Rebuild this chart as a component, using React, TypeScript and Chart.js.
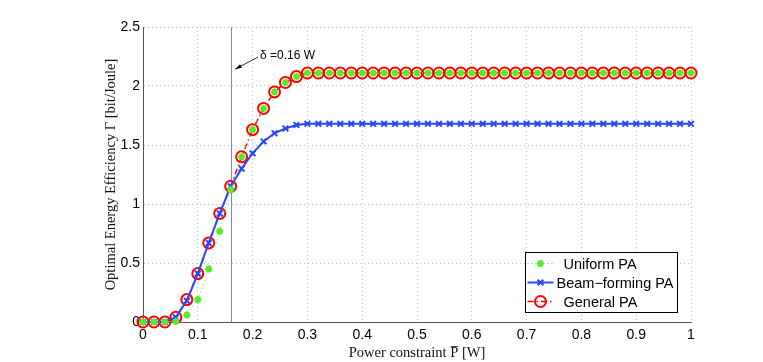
import React, { useEffect, useRef } from "react";
import { Chart, registerables } from "chart.js";

Chart.register(...registerables);

const power = [
  0, 0.02, 0.04, 0.06, 0.08, 0.1, 0.12, 0.14, 0.16, 0.18, 0.2, 0.22, 0.24, 0.26, 0.28, 0.3,
  0.32, 0.34, 0.36, 0.38, 0.4, 0.42, 0.44, 0.46, 0.48, 0.5, 0.52, 0.54, 0.56, 0.58, 0.6,
  0.62, 0.64, 0.66, 0.68, 0.7, 0.72, 0.74, 0.76, 0.78, 0.8, 0.82, 0.84, 0.86, 0.88, 0.9,
  0.92, 0.94, 0.96, 0.98, 1.0,
];

const uniformPA = [
  0, 0, 0, 0.005, 0.06, 0.19, 0.45, 0.77, 1.12, 1.4, 1.63, 1.81, 1.95, 2.03, 2.08, 2.11,
  2.11, 2.11, 2.11, 2.11, 2.11, 2.11, 2.11, 2.11, 2.11, 2.11, 2.11, 2.11, 2.11, 2.11, 2.11,
  2.11, 2.11, 2.11, 2.11, 2.11, 2.11, 2.11, 2.11, 2.11, 2.11, 2.11, 2.11, 2.11, 2.11, 2.11,
  2.11, 2.11, 2.11, 2.11, 2.11,
];

const beamformingPA = [
  0, 0, 0, 0.04, 0.18, 0.41, 0.67, 0.92, 1.15, 1.3, 1.43, 1.53, 1.6, 1.64, 1.67, 1.68,
  1.68, 1.68, 1.68, 1.68, 1.68, 1.68, 1.68, 1.68, 1.68, 1.68, 1.68, 1.68, 1.68, 1.68, 1.68,
  1.68, 1.68, 1.68, 1.68, 1.68, 1.68, 1.68, 1.68, 1.68, 1.68, 1.68, 1.68, 1.68, 1.68, 1.68,
  1.68, 1.68, 1.68, 1.68, 1.68,
];

const generalPA = [
  0, 0, 0, 0.04, 0.19, 0.41, 0.67, 0.92, 1.15, 1.4, 1.63, 1.81, 1.95, 2.03, 2.08, 2.11,
  2.11, 2.11, 2.11, 2.11, 2.11, 2.11, 2.11, 2.11, 2.11, 2.11, 2.11, 2.11, 2.11, 2.11, 2.11,
  2.11, 2.11, 2.11, 2.11, 2.11, 2.11, 2.11, 2.11, 2.11, 2.11, 2.11, 2.11, 2.11, 2.11, 2.11,
  2.11, 2.11, 2.11, 2.11, 2.11,
];

const seriesLabels = ["Uniform PA", "Beam\u2212forming PA", "General PA"];
const deltaValue = 0.16;
const annotationText = "\u03b4 =0.16 W";
const xTitle = "Power constraint P\u0305 [W]";
const yTitle = "Optimal Energy Efficiency \u0393 [bit/Joule]";

const GREEN = "rgb(85,235,40)";
const BLUE = "rgb(40,70,255)";
const RED = "rgb(255,0,0)";

const pts = (ys: number[]) => power.map((x, i) => ({ x, y: ys[i] }));

function drawMarker(ctx: CanvasRenderingContext2D, d: any, x: number, y: number) {
  const r = d.pointRadius;
  ctx.save();
  ctx.strokeStyle = d.pointBorderColor;
  ctx.fillStyle = d.pointBackgroundColor;
  ctx.lineWidth = d.pointBorderWidth;
  ctx.beginPath();
  if (d.pointStyle === "circle") {
    ctx.arc(x, y, r, 0, Math.PI * 2);
  } else if (d.pointStyle === "crossRot") {
    const o = r * Math.SQRT1_2;
    ctx.moveTo(x - o, y - o); ctx.lineTo(x + o, y + o);
    ctx.moveTo(x - o, y + o); ctx.lineTo(x + o, y - o);
  } else {
    const o = r * Math.SQRT1_2;
    ctx.moveTo(x - r, y); ctx.lineTo(x + r, y);
    ctx.moveTo(x, y - r); ctx.lineTo(x, y + r);
    ctx.moveTo(x - o, y - o); ctx.lineTo(x + o, y + o);
    ctx.moveTo(x - o, y + o); ctx.lineTo(x + o, y - o);
  }
  ctx.stroke();
  ctx.restore();
}

export default function App() {
  const ref = useRef<HTMLCanvasElement | null>(null);

  useEffect(() => {
    if (!ref.current) return;

    const overlay = {
      id: "overlay",
      beforeDatasetsDraw(chart: any) {
        const { ctx, chartArea, scales } = chart;
        const x = Math.round(scales.x.getPixelForValue(deltaValue)) + 0.5;
        ctx.save();
        ctx.strokeStyle = "#8a8a8a";
        ctx.lineWidth = 1;
        ctx.beginPath();
        ctx.moveTo(x, chartArea.top);
        ctx.lineTo(x, chartArea.bottom);
        ctx.stroke();
        ctx.restore();
      },
      afterDraw(chart: any) {
        const { ctx, chartArea, scales } = chart;
        const sx = scales.x, sy = scales.y;
        ctx.save();
        // annotation
        const tx = sx.getPixelForValue(0.2135);
        const ty = sy.getPixelForValue(2.256);
        const ax0 = sx.getPixelForValue(0.21);
        const ay0 = sy.getPixelForValue(2.245);
        const ax1 = sx.getPixelForValue(0.168);
        const ay1 = sy.getPixelForValue(2.143);
        ctx.strokeStyle = "#000";
        ctx.fillStyle = "#000";
        ctx.lineWidth = 0.8;
        ctx.beginPath();
        ctx.moveTo(ax0, ay0);
        ctx.lineTo(ax1, ay1);
        ctx.stroke();
        const ang = Math.atan2(ay1 - ay0, ax1 - ax0);
        const hl = 7, hw = 0.3;
        ctx.beginPath();
        ctx.moveTo(ax1, ay1);
        ctx.lineTo(ax1 - hl * Math.cos(ang - hw), ay1 - hl * Math.sin(ang - hw));
        ctx.lineTo(ax1 - hl * Math.cos(ang + hw), ay1 - hl * Math.sin(ang + hw));
        ctx.closePath();
        ctx.fill();
        ctx.font = "12px 'Liberation Sans', Arial, sans-serif";
        ctx.textAlign = "left";
        ctx.textBaseline = "middle";
        ctx.fillText(annotationText, tx, ty);

        // legend
        const bw = 152, bh = 60;
        const bx = Math.round(chartArea.right - 14 - bw) + 0.5;
        const by = Math.round(chartArea.bottom - 10 - bh) + 0.5;
        ctx.fillStyle = "#fff";
        ctx.fillRect(bx, by, bw, bh);
        ctx.strokeStyle = "#000";
        ctx.lineWidth = 1;
        ctx.strokeRect(bx, by, bw, bh);
        const rows = [11, 30, 49];
        const textOffsets = [38, 31, 38];
        const ds = chart.data.datasets;
        ds.forEach((d: any, i: number) => {
          const y = by + rows[i];
          ctx.save();
          ctx.strokeStyle = d.borderColor;
          ctx.lineWidth = d.borderWidth;
          ctx.setLineDash(d.borderDash || []);
          ctx.beginPath();
          ctx.moveTo(bx + 2, y);
          ctx.lineTo(bx + 28, y);
          ctx.stroke();
          ctx.restore();
          drawMarker(ctx, d, bx + 15, y);
          ctx.fillStyle = "#000";
          ctx.font = "14.5px 'Liberation Sans', Arial, sans-serif";
          ctx.textAlign = "left";
          ctx.textBaseline = "middle";
          ctx.fillText(seriesLabels[i], bx + textOffsets[i], y + 1);
        });
        ctx.restore();
      },
    };

    const tickFont = { family: "'Liberation Sans', Arial, sans-serif", size: 14 };
    const titleFont = { family: "'Liberation Serif', 'Times New Roman', serif", size: 14.5 };
    const gridCfg = {
      color: "#bdbdbd",
      lineWidth: 1,
      drawTicks: false,
    };
    const borderCfg = { display: true, color: "#555", width: 1, dash: [1, 3] };

    const chart = new Chart(ref.current, {
      type: "line",
      data: {
        datasets: [
          {
            label: seriesLabels[0],
            data: pts(uniformPA),
            borderColor: GREEN,
            backgroundColor: GREEN,
            borderWidth: 1,
            borderDash: [1, 3],
            pointStyle: "star",
            pointRadius: 3.6,
            pointBorderWidth: 2,
            pointBorderColor: GREEN,
            pointBackgroundColor: GREEN,
            clip: false,
            order: 1,
          },
          {
            label: seriesLabels[1],
            data: pts(beamformingPA),
            borderColor: BLUE,
            backgroundColor: BLUE,
            borderWidth: 2,
            pointStyle: "crossRot",
            pointRadius: 4,
            pointBorderWidth: 2,
            pointBorderColor: BLUE,
            pointBackgroundColor: BLUE,
            clip: false,
            order: 2,
          },
          {
            label: seriesLabels[2],
            data: pts(generalPA),
            borderColor: RED,
            backgroundColor: "rgba(0,0,0,0)",
            borderWidth: 1.5,
            borderDash: [6, 3, 1.5, 3],
            pointStyle: "circle",
            pointRadius: 5.5,
            pointBorderWidth: 2,
            pointBorderColor: RED,
            pointBackgroundColor: "rgba(0,0,0,0)",
            clip: false,
            order: 3,
          },
        ] as any,
      },
      options: {
        responsive: false,
        animation: false,
        events: [],
        layout: { padding: { top: 27, right: 72, left: 0, bottom: 0 } },
        plugins: { legend: { display: false }, tooltip: { enabled: false } },
        scales: {
          x: {
            type: "linear",
            min: 0,
            max: 1,
            afterFit: (s: any) => { s.height = 40; },
            ticks: {
              stepSize: 0.1,
              color: "#000",
              font: tickFont,
              padding: 5,
              maxRotation: 0,
              callback: (v: any) => String(Number(Number(v).toFixed(2))),
            },
            grid: gridCfg as any,
            border: borderCfg as any,
            title: {
              display: true,
              text: xTitle,
              color: "#111",
              font: titleFont,
              padding: { top: 3, bottom: 0 },
            },
          },
          y: {
            type: "linear",
            min: 0,
            max: 2.5,
            afterFit: (s: any) => { s.width = 143; },
            ticks: {
              stepSize: 0.5,
              color: "#000",
              font: tickFont,
              padding: 3,
              callback: (v: any) => String(Number(Number(v).toFixed(2))),
            },
            grid: gridCfg as any,
            border: borderCfg as any,
            title: {
              display: true,
              text: yTitle,
              color: "#111",
              font: titleFont,
              padding: { top: 102, bottom: 0 },
            },
          },
        },
      } as any,
      plugins: [overlay],
    });

    return () => chart.destroy();
  }, []);

  return (
    <canvas
      ref={ref}
      width={763}
      height={362}
      style={{ position: "absolute", left: 0, top: 0, display: "block" }}
    />
  );
}
